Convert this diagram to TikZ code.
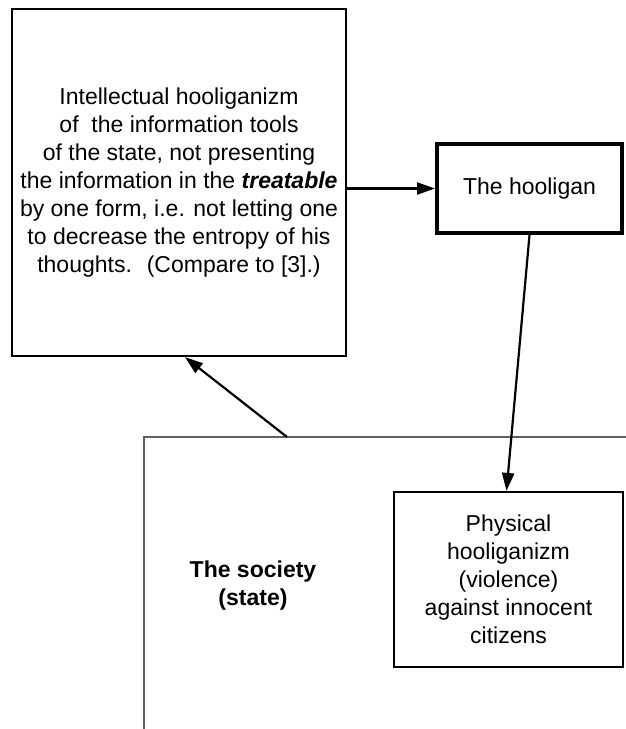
\documentclass[tikz,border=0pt]{standalone}
\usepackage{fontspec}
\setmainfont{Liberation Sans}
\usetikzlibrary{arrows.meta}
\tikzset{
  box/.style={draw, line width=2.2pt, align=center, inner sep=0pt},
  arr/.style={line width=2.2pt, -{Triangle[length=18pt,width=12pt]}},
}

\begin{document}
\begin{tikzpicture}[x=1pt,y=-1pt,font=\fontsize{23}{28}\selectfont]
        \useasboundingbox (0,0) rectangle (625,729);
        % the society, an open frame
        \draw[line width=2.2pt, black!62] (144,729) -- (144,437) -- (626,437);
        \coordinate (soc) at (287,437);
        \node[font=\fontsize{23}{28}\selectfont\bfseries, align=center] (state) at (253,586) {The society\\(state)};
        % boxes
        \node[box, minimum width=334pt, minimum height=347pt] (intel) at (179,182.5)
          {Intellectual hooliganizm\\of \ the information tools\\of the state, not presenting\\the information in the \textbf{\textit{treatable}}\\by one form, i.e. not letting one\\to decrease the entropy of his\\thoughts. \ (Compare to [3].)};
        \node[box, line width=4pt, minimum width=185pt, minimum height=89pt] (hool) at (529.5,188.5) {The hooligan};
        \node[box, minimum width=229pt, minimum height=175pt] (phys) at (508.5,579.5)
          {Physical\\hooliganizm\\(violence)\\against innocent\\citizens};
        % arrows
        \draw[arr] (intel.east |- hool.west) -- (hool.west);
        \draw[arr] (hool.south) -- ([xshift=-2pt]phys.north);
        \draw[arr] (soc) -- ([xshift=6pt]intel.south);
\end{tikzpicture}
\end{document}
